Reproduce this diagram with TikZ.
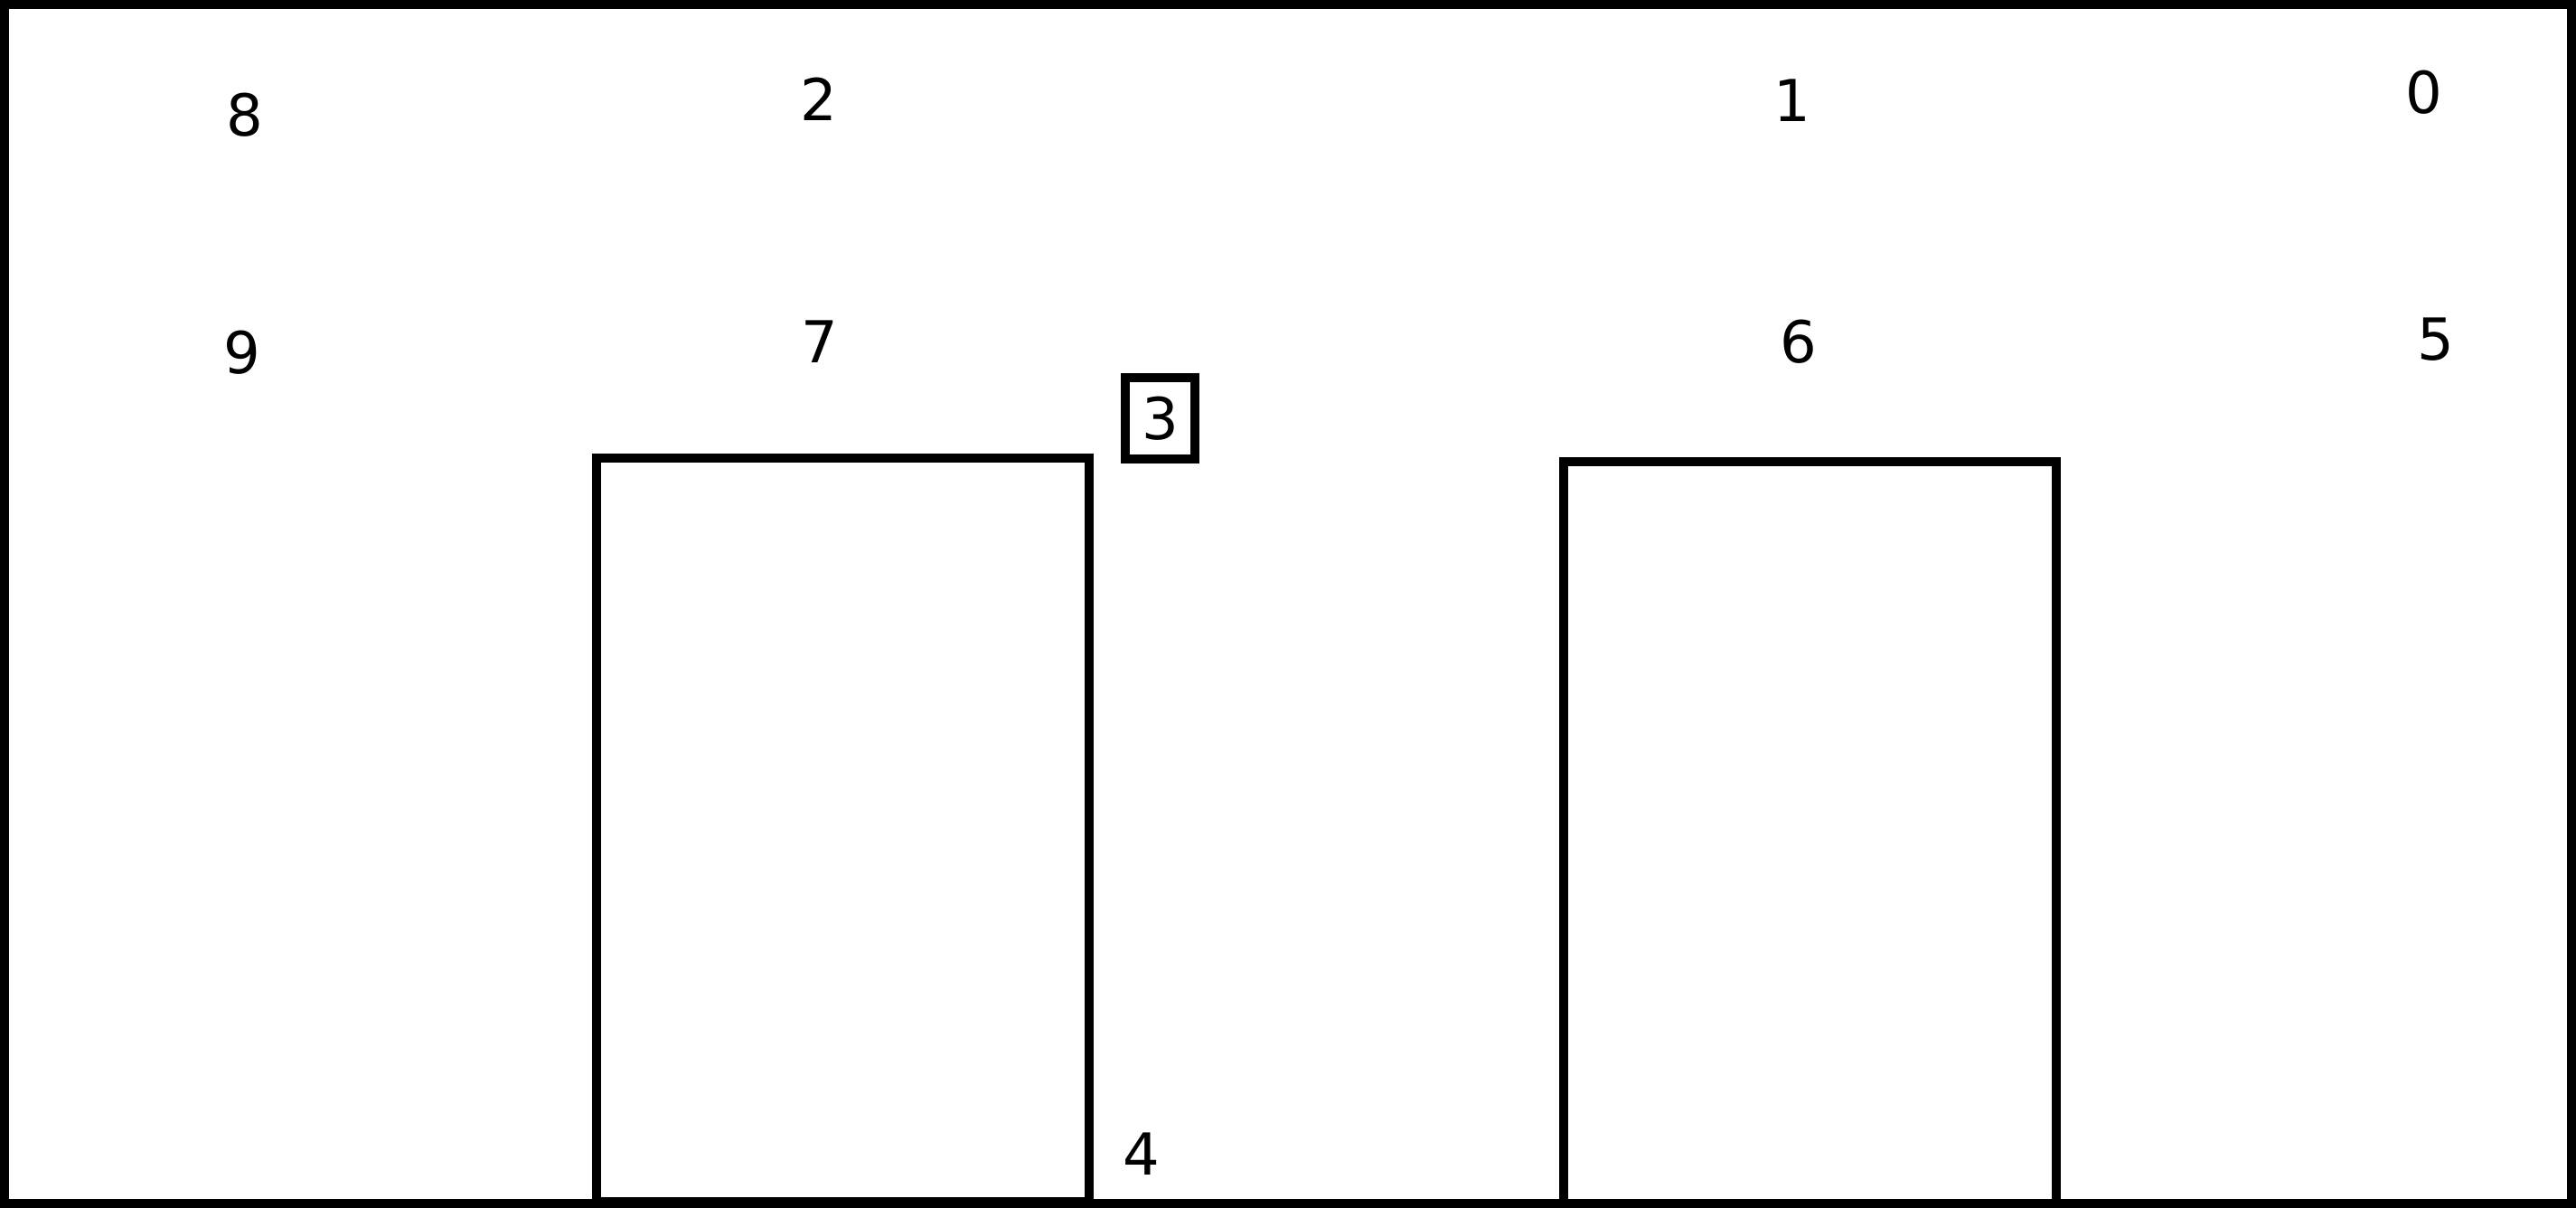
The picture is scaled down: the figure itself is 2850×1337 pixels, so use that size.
\documentclass[tikz,border=0pt]{standalone}
\usepackage{fontspec}
\setmainfont{DejaVu Sans}
\begin{document}
\begin{tikzpicture}[x=0.25pt,y=-0.25pt,
  lbl/.style={inner sep=0pt,font=\fontsize{16pt}{19pt}\selectfont},
  thick line/.style={line width=2.5pt,draw=black},
  boxlbl/.style={lbl,thick line,draw,minimum width=19.25pt,minimum height=22.5pt}]
\useasboundingbox (0,0) rectangle (2850,1337);
% outer frame
\draw[thick line] (5,5) rectangle (2845,1332);
% two tall boxes
\draw[thick line] (660,507) rectangle (1205,1330);
\draw[thick line] (1730,511) rectangle (2275,1334);
% labels
\node[lbl] (n8) at (271,127) {8};
\node[lbl] (n9) at (268,390) {9};
\node[lbl] (n2) at (906,110) {2};
\node[lbl] (n7) at (907,378) {7};
\node[lbl] (n1) at (1983,111) {1};
\node[lbl] (n6) at (1990,378) {6};
\node[lbl] (n0) at (2682,102) {0};
\node[lbl] (n5) at (2695,376) {5};
\node[lbl] (n4) at (1263,1277) {4};
\node[boxlbl] (n3) at (1283.5,463) {3};
\end{tikzpicture}
\end{document}
